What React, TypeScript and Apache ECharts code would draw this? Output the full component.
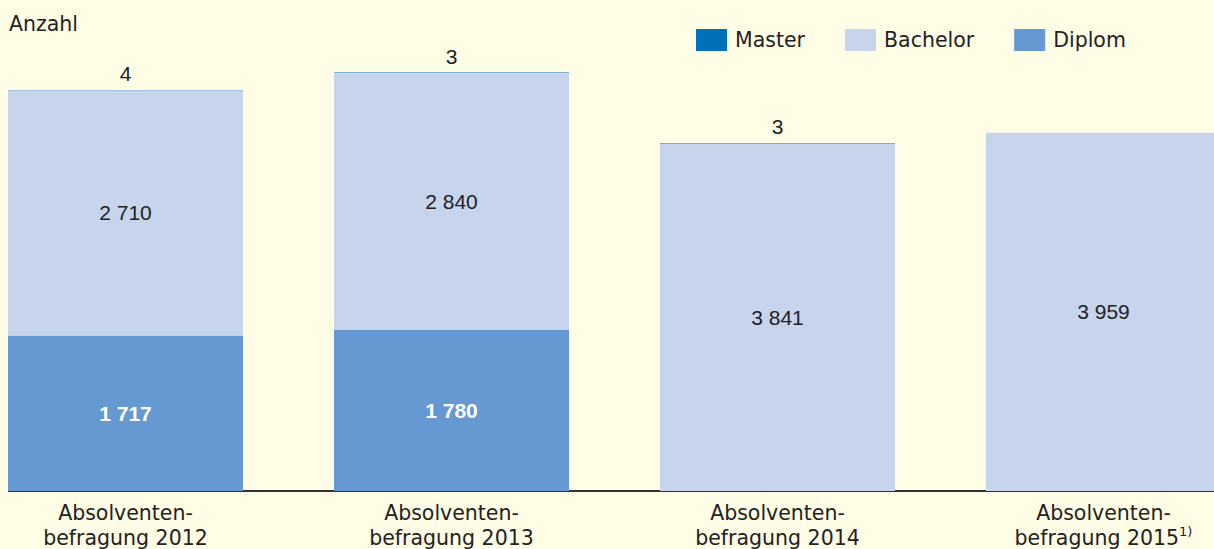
import React, { useEffect, useRef } from "react";
import * as echarts from "echarts";

const categories = [
  "Absolventen-\nbefragung 2012",
  "Absolventen-\nbefragung 2013",
  "Absolventen-\nbefragung 2014",
  "Absolventen-\nbefragung 2015",
];
const footnotes = ["", "", "", "1)"];
const diplom = [1717, 1780, null, null];
const bachelor = [2710, 2840, 3841, 3959];
const master = [4, 3, 3, null];

const BG = "#FFFDE6";
const TEXT_FONT = "DejaVu Sans";
const NUM_FONT = "Liberation Sans";

const fmt = (v: number) => String(v).replace(/\B(?=(\d{3})+(?!\d))/g, " ");

export default function App() {
  const ref = useRef<HTMLDivElement>(null);
  useEffect(() => {
    document.body.style.background = BG;
    const chart = echarts.init(ref.current!, undefined, { renderer: "svg" });
    chart.setOption({
      animation: false,
      backgroundColor: BG,
      title: {
        text: "Anzahl",
        left: 1,
        top: 13,
        padding: 0,
        textStyle: { fontFamily: TEXT_FONT, fontSize: 20.5, fontWeight: "normal", color: "#222" },
      },
      legend: {
        left: 688,
        top: 29,
        padding: 0,
        itemWidth: 31,
        itemHeight: 22,
        itemGap: 40,
        icon: "rect",
        data: ["Master", "Bachelor", "Diplom"],
        textStyle: { fontFamily: TEXT_FONT, fontSize: 20.5, color: "#222", padding: [0, 0, 0, 3] },
      },
      grid: { left: -45.5, width: 1304, top: 38.5, height: 452.5, outerBoundsMode: "none", containLabel: false },
      xAxis: {
        type: "category",
        data: categories,
        axisTick: { show: false },
        axisLine: { lineStyle: { color: "#333", width: 2 } },
        axisLabel: {
          margin: 9,
          interval: 0,
          fontFamily: TEXT_FONT,
          fontSize: 20.5,
          lineHeight: 25,
          color: "#222",
          formatter: (v: string, i: number) => (footnotes[i] ? v + "{sup|" + footnotes[i] + "}" : v),
          rich: {
            sup: { fontFamily: TEXT_FONT, fontSize: 13, color: "#222", verticalAlign: "top", lineHeight: 25 },
          },
        },
      },
      yAxis: { type: "value", min: 0, max: 5000, show: false, splitLine: { show: false } },
      series: [
        {
          name: "Diplom",
          type: "bar",
          stack: "t",
          barWidth: 235,
          data: diplom,
          itemStyle: { color: "#6699D2" },
          label: {
            show: true,
            position: "inside",
            formatter: (p: any) => fmt(p.value),
            fontFamily: NUM_FONT,
            fontSize: 21,
            fontWeight: "bold",
            color: "#fff",
          },
        },
        {
          name: "Bachelor",
          type: "bar",
          stack: "t",
          barWidth: 235,
          data: bachelor,
          itemStyle: { color: "#C6D4EC" },
          label: {
            show: true,
            position: "inside",
            formatter: (p: any) => fmt(p.value),
            fontFamily: NUM_FONT,
            fontSize: 21,
            color: "#222",
          },
        },
        {
          name: "Master",
          type: "bar",
          stack: "t",
          barWidth: 235,
          data: master,
          itemStyle: { color: "#0070BA" },
          label: {
            show: true,
            position: "top",
            distance: 6,
            formatter: (p: any) => fmt(p.value),
            fontFamily: NUM_FONT,
            fontSize: 21,
            color: "#222",
          },
        },
      ],
    });
    return () => chart.dispose();
  }, []);
  return (
    <div
      ref={ref}
      style={{ position: "absolute", left: 8, top: 0, width: 1206, height: 549 }}
    />
  );
}
